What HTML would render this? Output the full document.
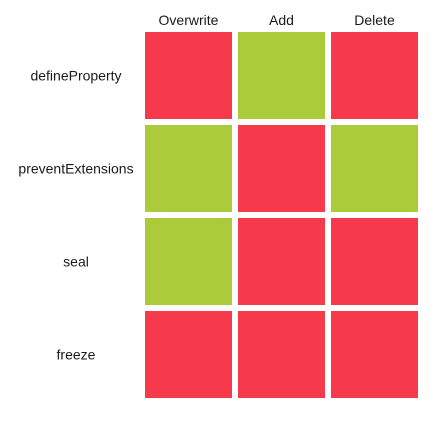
<!DOCTYPE html>
<html><head><meta charset="utf-8"><style>
body{margin:0;background:#fff;width:437px;height:418px;overflow:hidden}
text{font-family:"Liberation Sans",sans-serif;font-size:14px;fill:#1a1a1a}
</style></head><body>
<svg width="437" height="418">
<g id="g"></g>
</svg>
<script>
const columns=["Overwrite","Add","Delete"];
const rows=["defineProperty","preventExtensions","seal","freeze"];
const allowed=[[0,1,0],[1,0,1],[1,0,0],[0,0,0]];
const g=document.getElementById('g');
const ns="http://www.w3.org/2000/svg";
const x0=145,y0=32,step=93,size=87;
function xPos(i){return x0+i*step;}
function yPos(j){return y0+j*step;}
columns.forEach((c,i)=>{const t=document.createElementNS(ns,'text');
t.setAttribute('x',xPos(i)+size/2);t.setAttribute('y',25);t.setAttribute('text-anchor','middle');t.textContent=c;


g.appendChild(t);});
rows.forEach((r,j)=>{const t=document.createElementNS(ns,'text');
t.setAttribute('x',76);t.setAttribute('y',yPos(j)+size/2+5);t.setAttribute('text-anchor','middle');t.textContent=r;


g.appendChild(t);
allowed[j].forEach((v,i)=>{const rc=document.createElementNS(ns,'rect');
rc.setAttribute('x',xPos(i));rc.setAttribute('y',yPos(j));rc.setAttribute('width',size);rc.setAttribute('height',size);
rc.setAttribute('fill',v?'#accb3a':'#f63a4b');


g.appendChild(rc);});});
</script>
</body></html>
